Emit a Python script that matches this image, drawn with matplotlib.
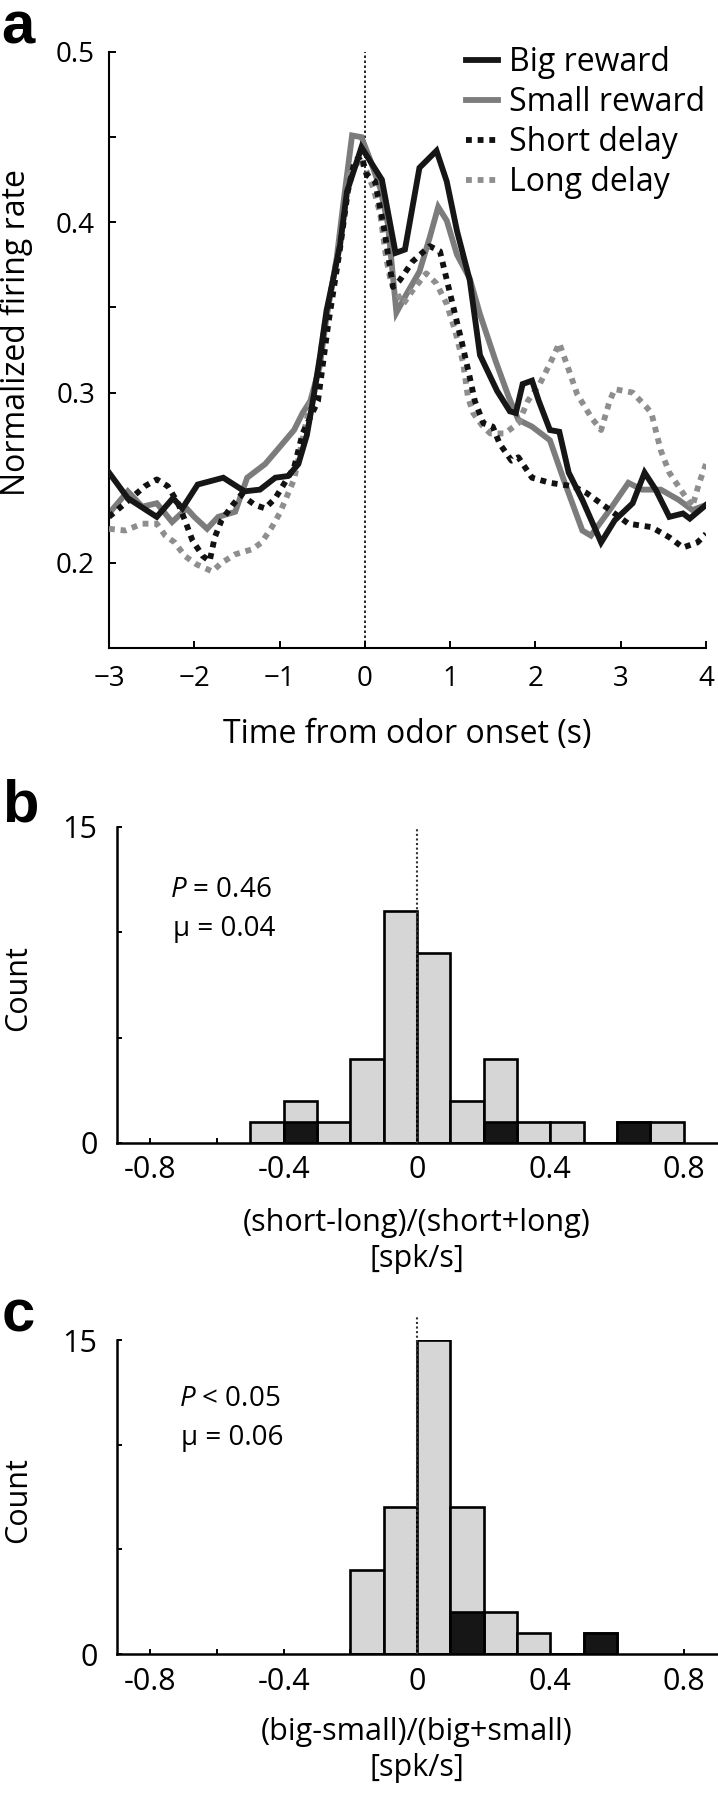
import matplotlib
matplotlib.use("Agg")
import matplotlib.pyplot as plt
import numpy as np

plt.rcParams['font.family'] = ['Open Sans', 'DejaVu Sans']
plt.rcParams['mathtext.fontset'] = 'custom'
plt.rcParams['mathtext.rm'] = 'Open Sans'
plt.rcParams['mathtext.it'] = 'Open Sans:italic'

# ---- panel a: population firing rate traces ----
big_t = [-3.0, -2.78, -2.44, -2.25, -2.14, -1.96, -1.66, -1.41, -1.23, -1.05,
         -0.9, -0.78, -0.68, -0.61, -0.53, -0.45, -0.37, -0.29, -0.21, -0.04,
         0.20, 0.36, 0.47, 0.64, 0.84, 0.96, 1.08, 1.23, 1.35, 1.55,
         1.70, 1.77, 1.85, 1.96, 2.04, 2.17, 2.28, 2.39, 2.55, 2.77,
         2.93, 3.14, 3.28, 3.41, 3.57, 3.73, 3.81, 4.0]
big_v = [0.253, 0.238, 0.227, 0.238, 0.232, 0.246, 0.250, 0.242, 0.243, 0.250,
         0.251, 0.258, 0.275, 0.295, 0.320, 0.348, 0.367, 0.387, 0.418, 0.444,
         0.425, 0.382, 0.384, 0.432, 0.442, 0.424, 0.395, 0.366, 0.322, 0.301,
         0.289, 0.288, 0.305, 0.307, 0.295, 0.278, 0.277, 0.253, 0.237, 0.212,
         0.225, 0.235, 0.253, 0.243, 0.227, 0.229, 0.226, 0.234]

small_t = [-3.0, -2.78, -2.61, -2.44, -2.26, -2.09, -2.0, -1.85, -1.72, -1.52,
           -1.38, -1.17, -1.05, -0.83, -0.73, -0.64, -0.53, -0.45, -0.33, -0.26,
           -0.15, -0.04, 0.06, 0.18, 0.27, 0.37, 0.49, 0.64, 0.76, 0.86,
           0.96, 1.08, 1.23, 1.35, 1.53, 1.69, 1.80, 1.96, 2.17, 2.33,
           2.55, 2.65, 2.87, 3.09, 3.25, 3.47, 3.68, 3.84, 4.0]
small_v = [0.229, 0.242, 0.233, 0.235, 0.224, 0.232, 0.227, 0.220, 0.227, 0.230,
           0.250, 0.258, 0.265, 0.278, 0.288, 0.295, 0.315, 0.344, 0.379, 0.408,
           0.451, 0.450, 0.437, 0.420, 0.399, 0.347, 0.358, 0.371, 0.391, 0.409,
           0.401, 0.381, 0.367, 0.346, 0.319, 0.297, 0.284, 0.280, 0.272, 0.249,
           0.219, 0.216, 0.231, 0.247, 0.243, 0.243, 0.237, 0.231, 0.234]

short_t = [-3.0, -2.81, -2.58, -2.44, -2.31, -2.19, -2.11, -2.02, -1.90, -1.82,
           -1.76, -1.68, -1.55, -1.45, -1.29, -1.17, -1.05, -0.83, -0.73, -0.55,
           -0.43, -0.29, -0.20, -0.12, -0.04, 0.02, 0.12, 0.23, 0.33, 0.41,
           0.56, 0.76, 0.88, 1.0, 1.14, 1.23, 1.29, 1.39, 1.50, 1.58,
           1.72, 1.80, 1.96, 2.17, 2.44, 2.60, 2.82, 3.09, 3.36, 3.57,
           3.73, 3.90, 4.0]
short_v = [0.227, 0.235, 0.245, 0.249, 0.245, 0.235, 0.225, 0.213, 0.204, 0.201,
           0.215, 0.225, 0.234, 0.240, 0.234, 0.232, 0.238, 0.256, 0.276, 0.295,
           0.340, 0.385, 0.418, 0.436, 0.439, 0.428, 0.424, 0.395, 0.362, 0.366,
           0.377, 0.386, 0.383, 0.358, 0.329, 0.309, 0.295, 0.282, 0.280, 0.270,
           0.260, 0.262, 0.250, 0.247, 0.245, 0.241, 0.233, 0.223, 0.221, 0.215,
           0.209, 0.212, 0.217]

long_t = [-3.0, -2.81, -2.61, -2.44, -2.34, -2.23, -2.11, -1.97, -1.79, -1.68,
          -1.52, -1.32, -1.21, -1.09, -1.0, -0.83, -0.64, -0.56, -0.47, -0.37,
          -0.26, -0.18, -0.06, 0.02, 0.10, 0.18, 0.25, 0.31, 0.45, 0.56,
          0.72, 0.84, 0.96, 1.06, 1.15, 1.21, 1.27, 1.37, 1.47, 1.64,
          1.80, 1.91, 2.05, 2.18, 2.28, 2.40, 2.49, 2.66, 2.77, 2.87,
          2.93, 3.14, 3.31, 3.36, 3.47, 3.57, 3.73, 3.84, 3.92, 4.0]
long_v = [0.220, 0.219, 0.223, 0.223, 0.216, 0.212, 0.204, 0.199, 0.195, 0.200,
          0.205, 0.208, 0.212, 0.221, 0.229, 0.249, 0.294, 0.309, 0.340, 0.367,
          0.399, 0.428, 0.437, 0.430, 0.420, 0.405, 0.379, 0.364, 0.352, 0.360,
          0.370, 0.364, 0.352, 0.336, 0.318, 0.297, 0.288, 0.281, 0.276, 0.276,
          0.282, 0.295, 0.305, 0.318, 0.329, 0.312, 0.299, 0.285, 0.278, 0.295,
          0.302, 0.300, 0.291, 0.288, 0.266, 0.253, 0.241, 0.233, 0.247, 0.258]

# ---- panels b, c: histograms (bin width 0.1) ----
b_edges = np.round(np.arange(-0.5, 0.81, 0.1), 2)
b_total = [1, 2, 1, 4, 11, 9, 2, 4, 1, 1, 0, 1, 1]
b_black = [0, 1, 0, 0, 0, 0, 0, 1, 0, 0, 0, 1, 0]
b_stats = ['$\\it{P}$ = 0.46', 'μ = 0.04']

c_edges = np.round(np.arange(-0.2, 0.61, 0.1), 2)
c_total = [4, 7, 15, 7, 2, 1, 0, 1]
c_black = [0, 0, 0, 2, 0, 0, 0, 1]
c_stats = ['$\\it{P}$ < 0.05', 'μ = 0.06']

W, H = 718, 1800
fig = plt.figure(figsize=(W / 100, H / 100), dpi=100)


def rect(left, top, right, bottom):
    return [left / W, 1 - bottom / H, (right - left) / W, (bottom - top) / H]


# ---------------- panel a ----------------
ax = fig.add_axes(rect(109, 52, 706, 648))
lw = 4.2
ax.plot(small_t, small_v, color='#7c7c7c', lw=lw, solid_joinstyle='miter',
        label='Small reward', zorder=2)
ax.plot(long_t, long_v, color='#8e8e8e', lw=lw, ls=(0, (1, 1)),
        dash_capstyle='butt', label='Long delay', zorder=3)
ax.plot(short_t, short_v, color='#111111', lw=lw, ls=(0, (1, 1)),
        dash_capstyle='butt', label='Short delay', zorder=4)
ax.plot(big_t, big_v, color='#161616', lw=lw, solid_joinstyle='miter',
        label='Big reward', zorder=5)
ax.axvline(0, color='black', lw=1.2, ls=(0, (1.5, 1.5)), zorder=1)

ax.set_xlim(-3, 4)
ax.set_ylim(0.15, 0.5)
ax.set_xticks(range(-3, 5))
ax.set_xticklabels([str(v).replace('-', '\u2212') for v in range(-3, 5)])
ax.set_yticks([0.2, 0.25, 0.3, 0.35, 0.4, 0.45, 0.5])
ax.set_yticklabels(['0.2', '', '0.3', '', '0.4', '', '0.5'])
ax.tick_params(direction='in', length=5, width=1.4, labelsize=20)
ax.tick_params(axis='y', pad=10)
ax.tick_params(axis='x', pad=12)
for s in ['top', 'right']:
    ax.spines[s].set_visible(False)
for s in ['left', 'bottom']:
    ax.spines[s].set_linewidth(1.5)

ax.set_xlabel('Time from odor onset (s)', fontsize=23)
ax.xaxis.set_label_coords(0.5, -0.118)
ax.set_ylabel('Normalized firing rate', fontsize=23)
ax.yaxis.set_label_coords(-0.128, 0.53)

handles, labels = ax.get_legend_handles_labels()
order = [3, 0, 2, 1]
ax.legend([handles[i] for i in order], [labels[i] for i in order],
          loc='upper left', bbox_to_anchor=(466 / W, 1 - 46 / H),
          bbox_transform=fig.transFigure, frameon=False, fontsize=23,
          handlelength=1.0, handletextpad=0.35, labelspacing=0.22,
          borderpad=0, borderaxespad=0)

fig.text(1 / W, 1 - 1 / H, 'a', fontsize=43, fontweight='bold',
         family='Liberation Sans', va='top', ha='left')


# ---------------- panels b and c ----------------
def hist_panel(box, edges, total, black, stats, stat_xy, xlabel, vtop, lab_y):
    hx = fig.add_axes(rect(*box))
    lefts = edges[:-1]
    hx.bar(lefts, total, width=0.1, align='edge', color='#d6d6d6',
           edgecolor='black', linewidth=1.9, zorder=2)
    hx.bar(lefts, black, width=0.1, align='edge', color='#161616',
           edgecolor='black', linewidth=1.9, zorder=3)
    hx.plot([0, 0], [0, vtop], color='#333333', lw=1.5, ls=(0, (1, 1.2)),
            clip_on=False, zorder=4)
    hx.set_xlim(-0.9, 0.9)
    hx.set_ylim(0, 15)
    ticks = np.round(np.arange(-0.8, 0.81, 0.2), 2)
    hx.set_xticks(ticks)
    hx.set_xticklabels(['-0.8', '', '-0.4', '', '0', '', '0.4', '', '0.8'])
    hx.set_yticks([0, 5, 10, 15])
    hx.set_yticklabels(['0', '', '', '15'])
    hx.tick_params(direction='in', length=3.5, width=1.4, labelsize=22)
    hx.tick_params(axis='y', pad=14)
    hx.tick_params(axis='x', pad=9)
    for s in ['top', 'right']:
        hx.spines[s].set_visible(False)
    for s in ['left', 'bottom']:
        hx.spines[s].set_linewidth(1.8)
    hx.set_xlabel(xlabel, fontsize=22, linespacing=1.25)
    hx.xaxis.set_label_coords(0.5, lab_y)
    hx.set_ylabel('Count', fontsize=22)
    hx.yaxis.set_label_coords(-0.14, 0.49)
    (px, py), (mx, my) = stat_xy
    fig.text(px / W, 1 - py / H, stats[0], fontsize=20, va='center')
    fig.text(mx / W, 1 - my / H, stats[1], fontsize=20, va='center')
    return hx


hist_panel((117, 827, 717, 1143), b_edges, b_total, b_black, b_stats,
           ((170, 890), (173, 929)), '(short-long)/(short+long)\n[spk/s]',
           15, -0.205)
fig.text(2 / W, 1 - 822 / H, 'b', fontsize=43, fontweight='bold',
         family='Liberation Sans', va='baseline', ha='left')

hist_panel((117, 1340, 717, 1654), c_edges, c_total, c_black, c_stats,
           ((179, 1399), (181, 1438)), '(big-small)/(big+small)\n[spk/s]',
           16.2, -0.20)
fig.text(2 / W, 1 - 1332 / H, 'c', fontsize=43, fontweight='bold',
         family='Liberation Sans', va='baseline', ha='left')

fig.savefig('out.png', dpi=100)
